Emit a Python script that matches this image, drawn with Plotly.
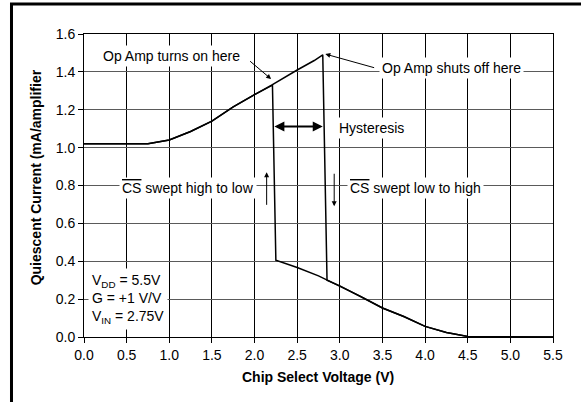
import plotly.graph_objects as go

# Sweep: CS low -> high (starts at 0 V, op amp on, shuts off near 2.8 V)
x_low_to_high = [0.0, 0.25, 0.5, 0.75, 1.0, 1.25, 1.5, 1.75, 2.0, 2.2, 2.5, 2.7, 2.8,
                 2.85, 3.0, 3.25, 3.5, 3.75, 4.0, 4.25, 4.5, 4.6, 5.0, 5.5]
y_low_to_high = [1.02, 1.02, 1.02, 1.02, 1.04, 1.085, 1.14, 1.215, 1.28, 1.33, 1.41, 1.46, 1.49,
                 0.30, 0.27, 0.213, 0.153, 0.108, 0.056, 0.024, 0.003, 0.0, 0.0, 0.0]

# Sweep: CS high -> low (op amp off, turns on near 2.2 V)
x_high_to_low = [5.5, 5.0, 4.6, 4.5, 4.25, 4.0, 3.75, 3.5, 3.25, 3.0, 2.85, 2.75, 2.5, 2.25,
                 2.21, 2.0, 1.75, 1.5, 1.25, 1.0, 0.75, 0.5, 0.25, 0.0]
y_high_to_low = [0.0, 0.0, 0.0, 0.003, 0.024, 0.056, 0.108, 0.153, 0.213, 0.27, 0.30, 0.323, 0.367, 0.406,
                 1.33, 1.28, 1.215, 1.14, 1.085, 1.04, 1.02, 1.02, 1.02, 1.02]

x_ticks = [0.0, 0.5, 1.0, 1.5, 2.0, 2.5, 3.0, 3.5, 4.0, 4.5, 5.0, 5.5]
y_ticks = [0.0, 0.2, 0.4, 0.6, 0.8, 1.0, 1.2, 1.4, 1.6]

FONT = "Arial, 'Liberation Sans', sans-serif"

fig = go.Figure()
fig.add_trace(go.Scatter(x=x_low_to_high, y=y_low_to_high, mode="lines",
                         line=dict(color="black", width=1.5), showlegend=False))
fig.add_trace(go.Scatter(x=x_high_to_low, y=y_high_to_low, mode="lines",
                         line=dict(color="black", width=1.5), showlegend=False))

ann = []
def text_ann(txt, x, y, **kw):
    d = dict(text=txt, x=x, y=y, xref="x", yref="y", showarrow=False,
             font=dict(family=FONT, size=14, color="black"),
             bgcolor="white", borderpad=2, xanchor="center", yanchor="middle")
    d.update(kw)
    ann.append(d)

def arrow(x0, y0, x1, y1, width=1, both=False):
    d = dict(text="", x=x1, y=y1, ax=x0, ay=y0, xref="x", yref="y", axref="x", ayref="y",
             showarrow=True, arrowhead=2, arrowsize=1, arrowwidth=width, arrowcolor="black")
    if both:
        d["arrowside"] = "end+start"
        d["startarrowhead"] = 2
        d["startarrowsize"] = 1
    ann.append(d)

text_ann("Op Amp turns on here", 1.026, 1.484)
arrow(1.93, 1.463, 2.195, 1.362)
text_ann("Op Amp shuts off here", 4.308, 1.419)
arrow(3.42, 1.42, 2.83, 1.494)
arrow(2.215, 1.111, 2.80, 1.111, width=2, both=True)
text_ann("Hysteresis", 3.37, 1.104)
text_ann("<span style='text-decoration:overline'>CS</span> swept high to low", 1.225, 0.787)
text_ann("<span style='text-decoration:overline'>CS</span> swept low to high", 3.886, 0.787)
arrow(2.142, 0.69, 2.142, 0.87)
arrow(2.934, 0.87, 2.934, 0.69)
text_ann("V<sub>DD</sub> = 5.5V<br>G = +1 V/V<br>V<sub>IN</sub> = 2.75V", 0.05, 0.2,
         xanchor="left", align="left", borderpad=3)

# axis titles
ann.append(dict(text="<b>Chip Select Voltage (V)</b>", x=0.499, y=-0.131, xref="paper", yref="paper",
                showarrow=False, font=dict(family=FONT, size=14, color="black"),
                xanchor="center", yanchor="middle"))
ann.append(dict(text="<b>Quiescent Current (mA/amplifier</b>", x=-0.1023, y=0.527, xref="paper",
                yref="paper", showarrow=False, textangle=-90,
                font=dict(family=FONT, size=14, color="black"),
                xanchor="center", yanchor="middle"))

# outer frame (only its left and top edges fall inside the picture)
shapes = [
    dict(type="rect", xref="paper", yref="paper", x0=-0.1546, x1=1.2, y0=-0.3, y1=1.099,
         line=dict(color="black", width=3), fillcolor="rgba(0,0,0,0)", layer="above"),
]

fig.update_layout(
    width=581, height=402, autosize=False,
    margin=dict(l=84, r=28, t=34, b=65),
    paper_bgcolor="white", plot_bgcolor="white",
    font=dict(family=FONT, size=14, color="black"),
    annotations=ann, shapes=shapes,
    xaxis=dict(range=[0, 5.5], tickvals=x_ticks, ticktext=[f"{v:.1f}" for v in x_ticks],
               showgrid=True, gridcolor="black", gridwidth=1,
               showline=True, linecolor="black", linewidth=1, mirror=True,
               ticks="outside", ticklen=5, tickcolor="black", zeroline=False,
               tickfont=dict(family=FONT, size=14, color="black")),
    yaxis=dict(range=[0, 1.6], tickvals=y_ticks, ticktext=[f"{v:.1f}" for v in y_ticks],
               showgrid=True, gridcolor="#5a5a5a", gridwidth=1,
               showline=True, linecolor="black", linewidth=1, mirror=True,
               ticks="outside", ticklen=5, tickcolor="black", zeroline=False,
               tickfont=dict(family=FONT, size=14, color="black")),
)

fig.write_html("out.html", config={"displayModeBar": False},
               post_script="document.body.style.margin='0';document.body.style.overflow='hidden';")
